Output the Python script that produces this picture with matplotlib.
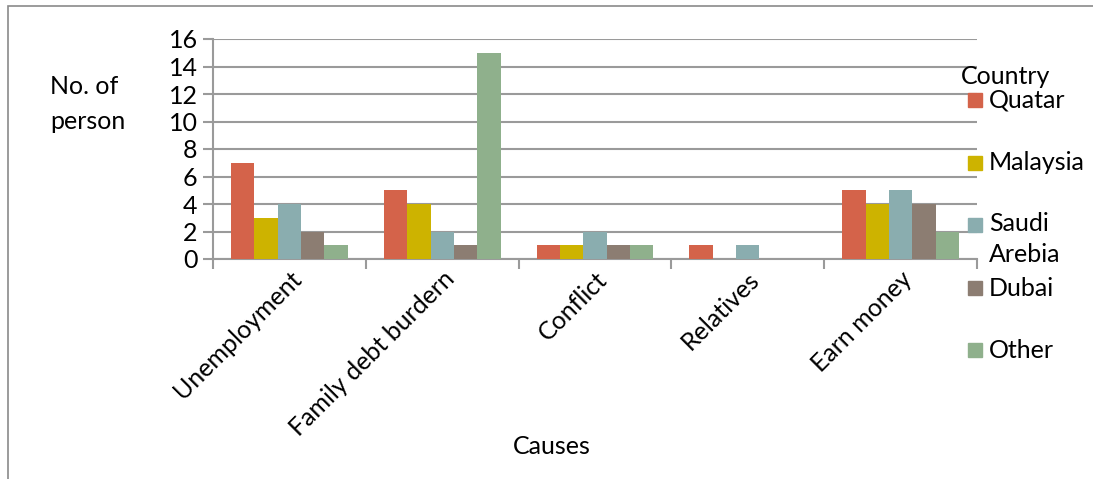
import numpy as np
import matplotlib
matplotlib.use("Agg")
import matplotlib.pyplot as plt
from matplotlib.patches import Rectangle

plt.rcParams['font.family'] = ['Lato', 'DejaVu Sans']

causes = ["Unemployment", "Family debt burdern", "Conflict", "Relatives", "Earn money"]
countries = ["Quatar", "Malaysia", "Saudi\nArebia", "Dubai", "Other"]
quatar = [7, 5, 1, 1, 5]
malaysia = [3, 4, 1, 0, 4]
saudi = [4, 2, 2, 1, 5]
dubai = [2, 1, 1, 0, 4]
other = [1, 15, 1, 0, 2]
series = [quatar, malaysia, saudi, dubai, other]
colors = ["#D4634A", "#CDB300", "#8AADAF", "#8C7D72", "#8FB08C"]
y_ticks = [0, 2, 4, 6, 8, 10, 12, 14, 16]

FS = 18
W, H = 1093, 479
fig = plt.figure(figsize=(W / 100, H / 100), dpi=100)
ax = fig.add_axes([213 / W, 1 - 259 / H, (977 - 213) / W, (259 - 39) / H])

x = np.arange(len(causes))
bw = 0.153
for i, (vals, c) in enumerate(zip(series, colors)):
    ax.bar(x + (i - 2) * bw, vals, width=bw, color=c, zorder=3)

ax.set_xlim(-0.5, len(causes) - 0.5)
ax.set_ylim(0, 16)
ax.set_yticks(y_ticks)
ax.set_yticklabels([str(v) for v in y_ticks], fontsize=FS)
ax.yaxis.grid(True, color="#9a9a9a", linewidth=1.5, zorder=0)
ax.set_axisbelow(True)

ax.set_xticks(np.arange(len(causes) + 1) - 0.5)
ax.set_xticklabels([])
ax.set_xticks(x, minor=True)
ax.set_xticklabels(causes, minor=True, rotation=45, ha="right", va="top",
                   rotation_mode="anchor", fontsize=FS)
ax.tick_params(axis="x", which="minor", length=0, pad=6)
ax.tick_params(axis="x", which="major", length=7, width=1.5, color="#9a9a9a")
ax.tick_params(axis="y", length=7, width=1.5, color="#9a9a9a", pad=4)

for s in ["top", "right"]:
    ax.spines[s].set_visible(False)
for s in ["left", "bottom"]:
    ax.spines[s].set_color("#9a9a9a")
    ax.spines[s].set_linewidth(1.5)

fig.text(50 / W, 1 - 104 / H, "No. of\nperson", fontsize=FS, ha="left", va="center",
         linespacing=1.65)
fig.text(552 / W, 1 - 447 / H, "Causes", fontsize=FS, ha="center", va="center")

# legend
fig.text(961 / W, 1 - 77 / H, "Country", fontsize=FS, ha="left", va="center")
legend_y = [100, 163, 225, 288, 350]
for lab, c, yy in zip(countries, colors, legend_y):
    fig.patches.append(Rectangle((968 / W, 1 - (yy + 7) / H), 14 / W, 14 / H,
                                 transform=fig.transFigure, color=c))
    if "\n" in lab:
        fig.text(989 / W, 1 - (yy - 13) / H, lab, fontsize=FS, ha="left", va="top",
                 linespacing=1.4)
    else:
        fig.text(989 / W, 1 - yy / H, lab, fontsize=FS, ha="left", va="center")

# outer frame
fig.patches.append(Rectangle((8 / W, -0.05), 1.2, 1 - 6 / H + 0.05,
                             transform=fig.transFigure, fill=False,
                             edgecolor="#8a8a8a", linewidth=1.2))

fig.savefig("out.png", dpi=100)
